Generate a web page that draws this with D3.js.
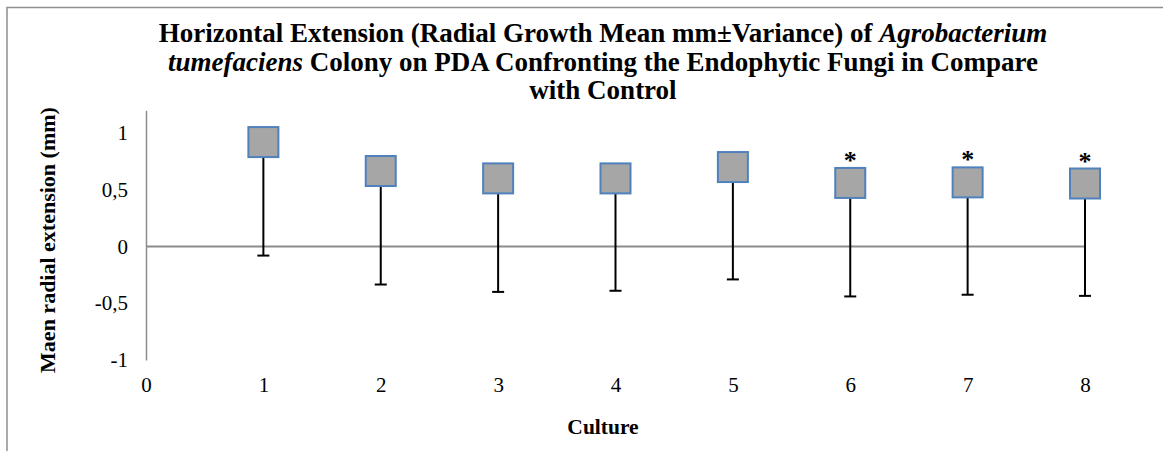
<!DOCTYPE html>
<html>
<head>
<meta charset="utf-8">
<script src="https://cdn.jsdelivr.net/npm/d3@7"></script>
<style>
  body { margin: 0; background: #fff; }
  svg { display: block; }
  text { font-family: "Liberation Serif", "Times New Roman", serif; fill: #000; }
</style>
</head>
<body>
<svg id="chart" width="1163" height="451"></svg>
<script>
// Radial growth of the colony per culture (mean, mm) and its variance
const cultures = [1, 2, 3, 4, 5, 6, 7, 8];
const meanExtension = [0.92, 0.665, 0.60, 0.60, 0.70, 0.56, 0.565, 0.555];
const variance = [1.0, 1.0, 1.0, 0.99, 0.99, 1.0, 0.99, 0.99];
const significant = [false, false, false, false, false, true, true, true];
const xTicks = [0, 1, 2, 3, 4, 5, 6, 7, 8];
const yTicks = [-1, -0.5, 0, 0.5, 1];

const titleLines = [
  [{ t: "Horizontal Extension (Radial Growth Mean mm±Variance) of ", i: false }, { t: "Agrobacterium", i: true }],
  [{ t: "tumefaciens", i: true }, { t: " Colony on PDA Confronting the Endophytic Fungi in Compare", i: false }],
  [{ t: "with Control", i: false }]
];

const svg = d3.select("#chart");

// chart frame
svg.append("rect")
  .attr("x", 7).attr("y", 7.5)
  .attr("width", 1200).attr("height", 500)
  .attr("fill", "none").attr("stroke", "#8f8f8f").attr("stroke-width", 1.5);

const x = d3.scaleLinear().domain([0, 8]).range([146, 1085]);
const y = d3.scaleLinear().domain([-1, 1.2]).range([360, 110.3]);

// title
const title = svg.append("text")
  .attr("text-anchor", "middle")
  .attr("font-weight", "bold")
  .attr("font-size", 27);
titleLines.forEach((line, li) => {
  line.forEach((seg, si) => {
    const ts = title.append("tspan").text(seg.t);
    if (si === 0) ts.attr("x", 603).attr("y", 42 + li * 28.5);
    if (seg.i) ts.attr("font-style", "italic");
  });
});

// y axis
const yAxis = d3.axisLeft(y)
  .tickValues(yTicks)
  .tickSize(0)
  .tickPadding(18)
  .tickFormat(d => String(d).replace(".", ","));
const gy = svg.append("g").attr("transform", `translate(${x(0)},0)`).call(yAxis);
gy.select(".domain").attr("stroke", "#8c8c8c").attr("stroke-width", 1.5);
gy.selectAll("text").attr("font-size", 21).attr("font-family", "Liberation Serif");

// x axis labels
const xAxis = d3.axisBottom(x)
  .tickValues(xTicks)
  .tickSize(0)
  .tickPadding(17)
  .tickFormat(d3.format("d"));
const gx = svg.append("g").attr("transform", `translate(0,${y(-1)})`).call(xAxis);
gx.select(".domain").remove();
gx.selectAll("text").attr("font-size", 21).attr("font-family", "Liberation Serif");

// zero line
svg.append("line")
  .attr("x1", x(0)).attr("x2", x(8))
  .attr("y1", y(0)).attr("y2", y(0))
  .attr("stroke", "#8c8c8c").attr("stroke-width", 2);

// axis titles
svg.append("text")
  .attr("transform", "translate(54.5,240) rotate(-90)")
  .attr("text-anchor", "middle")
  .attr("font-weight", "bold")
  .attr("font-size", 22)
  .text("Maen radial extension (mm)");

svg.append("text")
  .attr("x", 603).attr("y", 434)
  .attr("text-anchor", "middle")
  .attr("font-weight", "bold")
  .attr("font-size", 21.5)
  .text("Culture");

const data = cultures.map((c, i) => ({ c, m: meanExtension[i], v: variance[i], s: significant[i] }));

// error bars (minus direction)
const eb = svg.append("g").attr("stroke", "#000").attr("stroke-width", 2);
eb.selectAll("line.stem").data(data).join("line")
  .attr("class", "stem")
  .attr("x1", d => x(d.c)).attr("x2", d => x(d.c))
  .attr("y1", d => y(d.m)).attr("y2", d => y(d.m - d.v));
eb.selectAll("line.cap").data(data).join("line")
  .attr("class", "cap")
  .attr("x1", d => x(d.c) - 6).attr("x2", d => x(d.c) + 6)
  .attr("y1", d => y(d.m - d.v)).attr("y2", d => y(d.m - d.v));

// square markers
const ms = 30;
svg.append("g").selectAll("rect").data(data).join("rect")
  .attr("x", d => x(d.c) - ms / 2)
  .attr("y", d => y(d.m) - ms / 2)
  .attr("width", ms).attr("height", ms)
  .attr("fill", "#a6a6a6")
  .attr("stroke", "#4f81bd").attr("stroke-width", 2);

// significance marks
svg.append("g").selectAll("text").data(data.filter(d => d.s)).join("text")
  .attr("x", d => x(d.c))
  .attr("y", d => y(d.m) - ms / 2 + 1)
  .attr("text-anchor", "middle")
  .attr("font-weight", "bold")
  .attr("font-size", 26)
  .text("*");
</script>
</body>
</html>
